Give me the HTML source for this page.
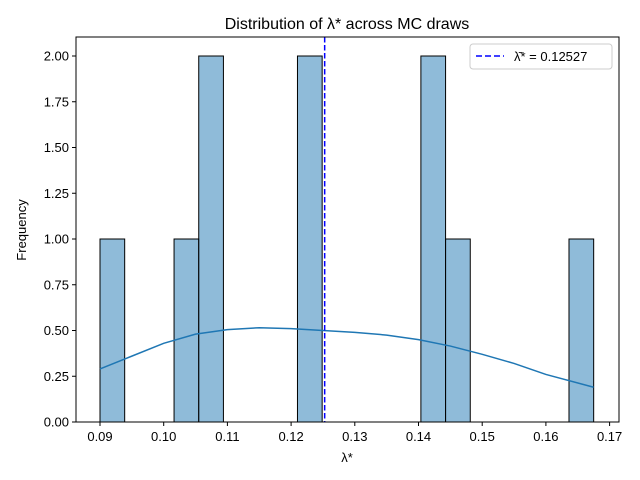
<!DOCTYPE html>
<html><head><meta charset="utf-8"><style>body{margin:0;background:#fff}svg{display:block;font-family:"Liberation Sans","DejaVu Sans",sans-serif}</style></head>
<body>
<svg width="640" height="480" xmlns="http://www.w3.org/2000/svg" id="chart">
<text x="347" y="29" font-size="16" text-anchor="middle">Distribution of λ* across MC draws</text>
<g id="plot"></g>
<rect x="76" y="37" width="543" height="385" fill="none" stroke="#000" stroke-width="1"/>
<text x="347" y="462" font-size="13" text-anchor="middle">λ*</text>
<text x="26" y="230" font-size="13" text-anchor="middle" transform="rotate(-90 26 230)">Frequency</text>
<g>
<rect x="470" y="44" width="142" height="25" rx="3" fill="#fff" stroke="#ccc"/>
<line x1="476" y1="56" x2="504" y2="56" stroke="#0000ff" stroke-width="1.6" stroke-dasharray="6,3"/>
<text x="514" y="61" font-size="13">λ̄* = 0.12527</text>
</g>
</svg>
<script>
const binStart = 0.09, binWidth = 0.003875;
const counts = [1,0,0,1,2,0,0,0,2,0,0,0,0,2,1,0,0,0,0,1];
const kdeX = [0.09,0.095,0.10,0.105,0.11,0.115,0.12,0.125,0.13,0.135,0.14,0.145,0.15,0.155,0.16,0.1675];
const kdeY = [0.29,0.36,0.43,0.48,0.505,0.515,0.51,0.50,0.49,0.475,0.45,0.415,0.37,0.32,0.26,0.19];
const meanVal = 0.12527;
const xTicks = [0.09,0.10,0.11,0.12,0.13,0.14,0.15,0.16,0.17];
const yTicks = [0,0.25,0.5,0.75,1,1.25,1.5,1.75,2];
const sx = v => 100 + (v - 0.09) * 6370;
const sy = v => 422 - v * 183;
const ns = "http://www.w3.org/2000/svg";
const g = document.getElementById('plot');
function mk(t, a){const e=document.createElementNS(ns,t);for(const k in a)e.setAttribute(k,a[k]);g.appendChild(e);return e;}
counts.forEach((c,i)=>{ if(!c) return;
  const x0=sx(binStart+i*binWidth), x1=sx(binStart+(i+1)*binWidth);
  const r=mk('rect',{x:x0,y:sy(c),width:x1-x0,height:sy(0)-sy(c),fill:'rgba(31,119,180,0.5)',stroke:'#000','stroke-width':1});
  
  
});
const p=mk('path',{d:kdeX.map((v,i)=>(i?'L':'M')+sx(v)+','+sy(kdeY[i])).join(''),fill:'none',stroke:'#1f77b4','stroke-width':1.5});


const m=mk('line',{x1:sx(meanVal),x2:sx(meanVal),y1:37,y2:422,stroke:'#0000ff','stroke-width':1.5,'stroke-dasharray':'5.5,2.5'});


xTicks.forEach(v=>{
  const l=mk('line',{x1:sx(v),x2:sx(v),y1:422,y2:426,stroke:'#000'});
  
  
  const t=mk('text',{x:sx(v),y:441,'font-size':13,'text-anchor':'middle'});t.textContent=v.toFixed(2);
  
  
});
yTicks.forEach(v=>{
  const l=mk('line',{x1:72,x2:76,y1:sy(v),y2:sy(v),stroke:'#000'});
  
  
  const t=mk('text',{x:69,y:sy(v)+4.5,'font-size':13,'text-anchor':'end'});t.textContent=v.toFixed(2);
  
  
});
</script>
</body></html>
